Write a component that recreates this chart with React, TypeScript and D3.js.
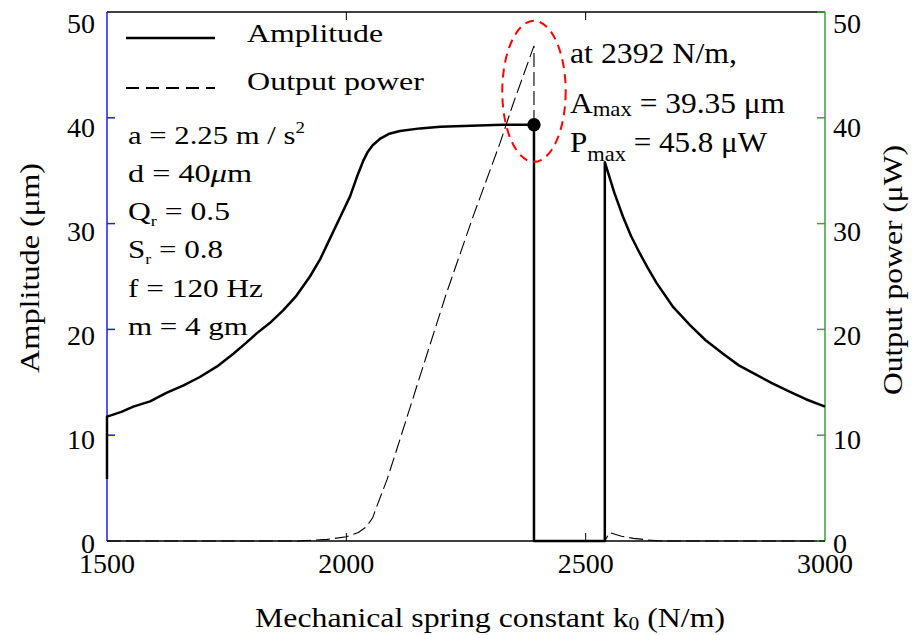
import React from "react";
import * as d3 from "d3";

const kAmp = [1500, 1500, 1530, 1555, 1590, 1624, 1660, 1694, 1730, 1764, 1790, 1812, 1840, 1868, 1896, 1924, 1946, 1966, 1988, 2008, 2022, 2035, 2045, 2055, 2070, 2090, 2112, 2154, 2196, 2260, 2327, 2392, 2392, 2540, 2540, 2560, 2578, 2595, 2613, 2630, 2648, 2683, 2718, 2750, 2787, 2820, 2857, 2890, 2927, 2960, 3000];
const amplitude = [5.86, 11.75, 12.2, 12.7, 13.2, 14.0, 14.7, 15.5, 16.5, 17.7, 18.7, 19.6, 20.6, 21.8, 23.2, 25.0, 26.7, 28.6, 30.7, 32.6, 34.4, 35.9, 36.8, 37.4, 38.0, 38.5, 38.75, 39.0, 39.15, 39.25, 39.35, 39.35, 0, 0, 35.8, 32.9, 30.65, 28.8, 27.2, 25.8, 24.4, 22.1, 20.4, 19.0, 17.7, 16.6, 15.7, 14.9, 14.1, 13.4, 12.7];

const kPow = [1500, 1900, 1960, 2000, 2025, 2042, 2055, 2063, 2085, 2105, 2147, 2209, 2265, 2321, 2349, 2392, 2392, 2540, 2550, 2575, 2600, 2630, 2660, 3000];
const power = [0, 0, 0.15, 0.4, 0.8, 1.35, 2.2, 3.2, 5.8, 8.6, 14.6, 23.4, 30.7, 37.6, 41.4, 46.8, 0, 0, 0.8, 0.45, 0.25, 0.1, 0, 0];

const xTicks = [1500, 2000, 2500, 3000];
const xInnerTicks = [2000, 2500];
const yTicks = [0, 10, 20, 30, 40, 50];
const yLeftInnerTicks = [10, 20, 30, 40];

const peakK = [2392];
const peakA = [39.35];
const ellipseCenter = [2392, 42.5];

const paramLines = [
  { main: "a = 2.25 m / s", sub: "", sup: "2" },
  { main: "d = 40", mu: "μ", rest: "m" },
  { main: "Q", sub: "r", rest: " = 0.5" },
  { main: "S", sub: "r", rest: " = 0.8" },
  { main: "f = 120 Hz" },
  { main: "m = 4 gm" },
];
const peakTexts = ["at 2392 N/m,", "= 39.35 μm", "= 45.8 μW"];
const legendLabels = ["Amplitude", "Output power"];
const xTitle = ["Mechanical spring constant k", "0", " (N/m)"];
const yLeftTitle = "Amplitude (μm)";
const yRightTitle = "Output power (μW)";

const FONT = "Liberation Serif, Times New Roman, Times, serif";
const BLUE = "#1a1aff";
const GREEN = "#3c9e3c";

export default function App() {
  const x = d3.scaleLinear().domain([1500, 3000]).range([107, 825]);
  const y = d3.scaleLinear().domain([0, 50]).range([541, 12]);
  const [x0, x1] = x.range();
  const [yb, yt] = y.range();

  const ampData = kAmp.map((k, i) => [k, amplitude[i]] as [number, number]);
  const powData = kPow.map((k, i) => [k, power[i]] as [number, number]);
  const line = d3.line<[number, number]>().x((d) => x(d[0])).y((d) => y(d[1]));

  const paramW = [177, 124, 102, 95, 135, 120];
  const paramBase = [144, 182, 220, 258, 297, 335];

  return (
    <svg width={920} height={635} style={{ position: "absolute", left: 0, top: 0, background: "#fff", fontFamily: FONT }}>
      {/* frame */}
      <line x1={x0} x2={x1} y1={yt} y2={yt} stroke="#000" strokeWidth={1.5} />
      <line x1={x0} x2={x1} y1={yb} y2={yb} stroke="#000" strokeWidth={1.5} />
      <line x1={x0} x2={x0} y1={yt} y2={yb} stroke={BLUE} strokeWidth={1.5} />
      <line x1={x1} x2={x1} y1={yt} y2={yb} stroke={GREEN} strokeWidth={1.5} />
      {xInnerTicks.map((t) => (
        <g key={"xt" + t}>
          <line x1={x(t)} x2={x(t)} y1={yb} y2={yb - 8} stroke="#000" strokeWidth={1} />
          <line x1={x(t)} x2={x(t)} y1={yt} y2={yt + 8} stroke="#000" strokeWidth={1} />
        </g>
      ))}
      {yLeftInnerTicks.map((t) => (
        <line key={"yl" + t} x1={x0} x2={x0 + 8} y1={y(t)} y2={y(t)} stroke={BLUE} strokeWidth={1.5} />
      ))}
      {yTicks.map((t) => (
        <line key={"yr" + t} x1={x1} x2={x1 - 8} y1={y(t)} y2={y(t)} stroke={GREEN} strokeWidth={1.5} />
      ))}

      {/* tick labels */}
      {yTicks.map((t) => (
        <text key={"ll" + t} x={95} y={y(t) + 12 + 0.18 * t} fontSize={28} textAnchor="end">{t}</text>
      ))}
      {yTicks.map((t) => (
        <text key={"rl" + t} x={833} y={y(t) + 12 + 0.18 * t} fontSize={28} textAnchor="start">{t}</text>
      ))}
      {xTicks.map((t) => (
        <text key={"xl" + t} x={x(t)} y={573} fontSize={28} textAnchor="middle">{t}</text>
      ))}

      {/* axis titles */}
      <text x={490} y={627} fontSize={28} textAnchor="middle" textLength={470} lengthAdjust="spacingAndGlyphs">
        {xTitle[0]}
        <tspan fontSize={19} dy={3}>{xTitle[1]}</tspan>
        <tspan dy={-3}>{xTitle[2]}</tspan>
      </text>
      <text transform="translate(39,268) rotate(-90)" fontSize={27} textAnchor="middle" textLength={210} lengthAdjust="spacingAndGlyphs">{yLeftTitle}</text>
      <text transform="translate(902,270) rotate(-90)" fontSize={27} textAnchor="middle" textLength={250} lengthAdjust="spacingAndGlyphs">{yRightTitle}</text>

      {/* series */}
      <path d={line(powData) || ""} fill="none" stroke="#000" strokeWidth={1.1} strokeDasharray="14,5" />
      <path d={line(ampData) || ""} fill="none" stroke="#000" strokeWidth={2.5} strokeLinejoin="round" />

      {/* peak marker and ellipse */}
      <circle cx={x(peakK[0])} cy={y(peakA[0])} r={6.7} fill="#000" />
      <ellipse cx={x(ellipseCenter[0])} cy={y(ellipseCenter[1])} rx={31.7} ry={70.5} fill="none" stroke="#ff0000" strokeWidth={2} strokeDasharray="9,6" />

      {/* legend */}
      <line x1={126} x2={215} y1={38} y2={38} stroke="#000" strokeWidth={2.6} />
      <text x={247} y={42} fontSize={26} textLength={136} lengthAdjust="spacingAndGlyphs">{legendLabels[0]}</text>
      <line x1={126} x2={215} y1={88} y2={88} stroke="#000" strokeWidth={1.8} strokeDasharray="13,7" />
      <text x={247} y={90} fontSize={26} textLength={177} lengthAdjust="spacingAndGlyphs">{legendLabels[1]}</text>

      {/* parameters */}
      <text x={128} y={paramBase[0]} fontSize={26} textLength={paramW[0]} lengthAdjust="spacingAndGlyphs">
        {paramLines[0].main}<tspan fontSize={16} dy={-11}>{paramLines[0].sup}</tspan>
      </text>
      <text x={128} y={paramBase[1]} fontSize={26} textLength={paramW[1]} lengthAdjust="spacingAndGlyphs">
        {paramLines[1].main}<tspan fontStyle="italic">{paramLines[1].mu}</tspan>{paramLines[1].rest}
      </text>
      {[2, 3].map((i) => (
        <text key={"p" + i} x={128} y={paramBase[i]} fontSize={26} textLength={paramW[i]} lengthAdjust="spacingAndGlyphs">
          {paramLines[i].main}<tspan fontSize={15} dy={6}>{paramLines[i].sub}</tspan><tspan dy={-6}>{paramLines[i].rest}</tspan>
        </text>
      ))}
      {[4, 5].map((i) => (
        <text key={"p" + i} x={128} y={paramBase[i]} fontSize={26} textLength={paramW[i]} lengthAdjust="spacingAndGlyphs">{paramLines[i].main}</text>
      ))}

      {/* peak annotation */}
      <text x={570} y={63} fontSize={29} textLength={167} lengthAdjust="spacingAndGlyphs">{peakTexts[0]}</text>
      <text x={570} y={113} fontSize={29} textLength={215} lengthAdjust="spacingAndGlyphs">
        A<tspan fontSize={21} dy={3}>max</tspan><tspan dy={-3}>{" " + peakTexts[1]}</tspan>
      </text>
      <text x={570} y={152} fontSize={29} textLength={197} lengthAdjust="spacingAndGlyphs">
        P<tspan fontSize={21} dy={9}>max</tspan><tspan dy={-9}>{" " + peakTexts[2]}</tspan>
      </text>
    </svg>
  );
}
